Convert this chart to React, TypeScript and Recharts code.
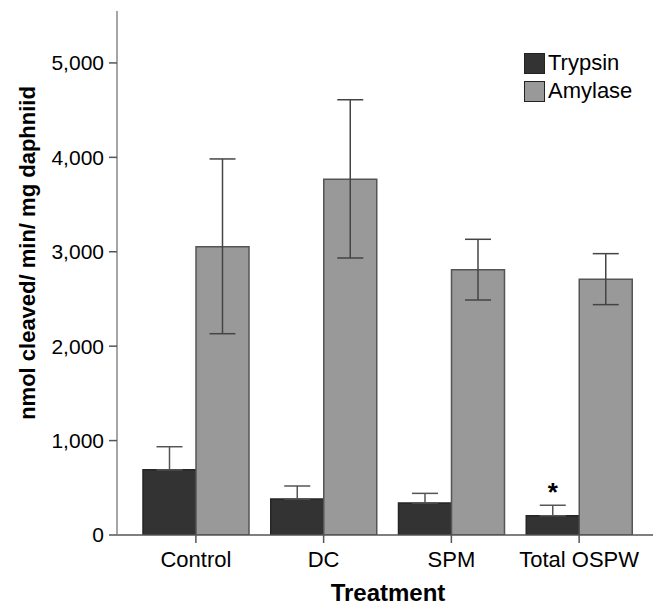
import React from 'react';
import { BarChart, Bar, XAxis, YAxis, ErrorBar, LabelList, Label } from 'recharts';

const categories = ['Control', 'DC', 'SPM', 'Total OSPW'];
const trypsinMean = [690, 381, 339, 204];
const trypsinUpper = [935, 519, 441, 315];
const amylaseMean = [3054, 3768, 2810, 2709];
const amylaseLower = [2132, 2934, 2489, 2440];
const amylaseUpper = [3983, 4610, 3132, 2980];
const marks = ['', '', '', '*'];
const yTicks = [0, 1000, 2000, 3000, 4000, 5000];

const series = [
  { key: 'trypsin', name: 'Trypsin', fill: '#333333', stroke: '#262626' },
  { key: 'amylase', name: 'Amylase', fill: '#999999', stroke: '#555555' },
];

const data = categories.map((name, i) => ({
  name,
  trypsin: trypsinMean[i],
  trypsinErr: [0, trypsinUpper[i] - trypsinMean[i]],
  amylase: amylaseMean[i],
  amylaseErr: [amylaseMean[i] - amylaseLower[i], amylaseUpper[i] - amylaseMean[i]],
  mark: marks[i],
}));

const FONT = '"Liberation Sans", Arial, Helvetica, sans-serif';

const renderMark = (props: any) => {
  const { x, y, width, value } = props;
  if (!value) return null;
  return (
    <text x={x + width / 2} y={y - 15} textAnchor="middle" fontSize={26} fontWeight="bold" fontFamily={FONT} fill="#000">
      {value}
    </text>
  );
};

const App: React.FC = () => {
  return (
    <div style={{ position: 'absolute', left: 0, top: 0, width: 653, height: 607, background: '#fff', fontFamily: FONT }}>
      <BarChart
        width={653}
        height={607}
        data={data}
        margin={{ top: 11, right: 0, left: 0, bottom: 0 }}
        barGap={0}
        barSize={53}
      >
        <XAxis
          dataKey="name"
          height={72}
          interval={0}
          padding={{ left: 15, right: 10 }}
          tickSize={8}
          tickMargin={8}
          axisLine={{ stroke: '#555', strokeWidth: 1.5 }}
          tickLine={{ stroke: '#555', strokeWidth: 1.5 }}
          tick={{ fill: '#000', fontSize: 22, fontFamily: FONT }}
        >
          <Label
            content={() => (
              <text x={388} y={601} textAnchor="middle" fontSize={24} fontWeight="bold" fontFamily={FONT} fill="#000">
                Treatment
              </text>
            )}
          />
        </XAxis>
        <YAxis
          width={117}
          domain={[0, 5550]}
          ticks={yTicks}
          allowDataOverflow
          tickFormatter={(v: number) => v.toLocaleString('en-US')}
          tickSize={8}
          tickMargin={5}
          axisLine={{ stroke: '#888', strokeWidth: 1.5 }}
          tickLine={{ stroke: '#555', strokeWidth: 1.5 }}
          tick={{ fill: '#000', fontSize: 21, fontFamily: FONT }}
        >
          <Label
            content={() => (
              <text
                x={35}
                y={253}
                transform="rotate(-90 35 253)"
                textAnchor="middle"
                fontSize={22}
                fontWeight="bold"
                fontFamily={FONT}
                fill="#000"
              >
                nmol cleaved/ min/ mg daphniid
              </text>
            )}
          />
        </YAxis>
        <Bar dataKey="trypsin" name="Trypsin" fill={series[0].fill} stroke={series[0].stroke} strokeWidth={1.5} isAnimationActive={false}>
          <ErrorBar dataKey="trypsinErr" width={13} stroke="#555" strokeWidth={1.5} isAnimationActive={false} />
          <LabelList dataKey="mark" content={renderMark} />
        </Bar>
        <Bar dataKey="amylase" name="Amylase" fill={series[1].fill} stroke={series[1].stroke} strokeWidth={1.5} isAnimationActive={false}>
          <ErrorBar dataKey="amylaseErr" width={13} stroke="#444" strokeWidth={1.5} isAnimationActive={false} />
        </Bar>
      </BarChart>
      <div style={{ position: 'absolute', left: 524, top: 49 }}>
        {series.map((s) => (
          <div key={s.key} style={{ display: 'flex', alignItems: 'center', height: 28 }}>
            <span
              style={{
                display: 'inline-block',
                width: 19,
                height: 19,
                background: s.fill,
                border: '1px solid #222',
                marginRight: 3,
              }}
            />
            <span style={{ fontSize: 22, color: '#000', lineHeight: '22px' }}>{s.name}</span>
          </div>
        ))}
      </div>
    </div>
  );
};

export default App;
